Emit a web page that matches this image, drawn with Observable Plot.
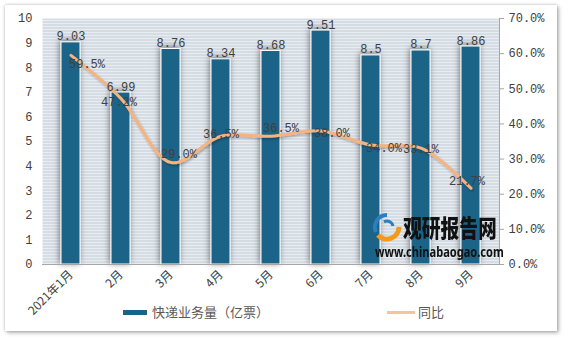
<!DOCTYPE html>
<html>
<head>
<meta charset="utf-8">
<script src="https://cdn.jsdelivr.net/npm/d3@7"></script>
<script src="https://cdn.jsdelivr.net/npm/@observablehq/plot@0.6"></script>
<style>
  html, body { margin: 0; padding: 0; background: #ffffff; }
  #wrap { position: relative; width: 568px; height: 339px; overflow: hidden; }
  #panel { position: absolute; left: 5px; top: 5px; width: 552px; height: 326px; background: #fff;
           box-shadow: 0 0 3px rgba(0,0,0,0.25), 2px 2px 4px rgba(0,0,0,0.25); }
  #chart { position: absolute; left: 0; top: 0; }
  .leg { position: absolute; font-family: "Noto Sans CJK SC", "Noto Sans", sans-serif; font-size: 13px; color: #595959; line-height: 16px; }
  .sw { position: absolute; }
  #wm1 { position: absolute; left: 403px; top: 212px; font-family: "Noto Sans CJK SC", sans-serif; font-weight: 900; font-size: 24px; color: #111; transform: scaleX(0.78); transform-origin: left top; line-height: 30px; }
  #wm2 { position: absolute; left: 375px; top: 244px; font-family: "Noto Sans", sans-serif; font-weight: 700; font-size: 13.5px; color: #111; transform: scaleX(0.82); transform-origin: left top; line-height: 16px; }
  #logo { position: absolute; left: 372px; top: 212px; }
</style>
</head>
<body>
<div id="wrap">
  <div id="panel"></div>
  <div id="chart"></div>
  <svg id="logo" width="30" height="30" viewBox="0 0 30 30">
    <path d="M15 3 A12 12 0 0 0 4 20" fill="none" stroke="#2a7fc0" stroke-width="4"/>
    <path d="M6 23 A12 12 0 0 0 27 15" fill="none" stroke="#f39a1e" stroke-width="5"/>
    <path d="M12 10 A6 6 0 0 1 21 14" fill="none" stroke="#2a7fc0" stroke-width="3"/>
  </svg>
  <div id="wm1">观研报告网</div>
  <div id="wm2">www.chinabaogao.com</div>
  <div class="sw" style="left:123px;top:310px;width:24px;height:5px;background:#1a6488;"></div>
  <div class="leg" style="left:152px;top:304px;">快递业务量（亿票）</div>
  <div class="sw" style="left:387px;top:311px;width:28px;height:3px;background:#f7c39b;"></div>
  <div class="leg" style="left:418px;top:304px;">同比</div>
</div>
<script>
const months = ["2021年1月", "2月", "3月", "4月", "5月", "6月", "7月", "8月", "9月"];
const volume = [9.03, 6.99, 8.76, 8.34, 8.68, 9.51, 8.5, 8.7, 8.86];
const yoy = [59.5, 47.2, 29.0, 36.5, 36.5, 38.0, 34.0, 33.1, 21.7];
const leftTicks = [0, 1, 2, 3, 4, 5, 6, 7, 8, 9, 10];
const rightTicks = [0, 10, 20, 30, 40, 50, 60, 70];

const data = months.map((m, i) => ({month: m, volume: volume[i], yoy: yoy[i]}));
const ratio = 7; // 70% on right axis <-> 10 on left axis

// label nudges (pixels) for the growth-rate labels
const nudge = [[16, 9], [-2, 4], [8, -8], [0, -2], [10, -8], [11, 2], [13, 3], [0, 1], [-4, -7]];

const numFont = "Liberation Mono, DejaVu Sans Mono, monospace";
const txt = "#404040";

const plot = Plot.plot({
  width: 568,
  height: 339,
  marginLeft: 42,
  marginRight: 69,
  marginTop: 18,
  marginBottom: 75,
  style: {background: "transparent", overflow: "visible"},
  x: {domain: months, paddingInner: 0.62, paddingOuter: 0.31},
  y: {domain: [0, 10]},
  marks: [
    Plot.frame({fill: "url(#stripes)", stroke: "none"}),
    Plot.barY(data, {x: "month", y: "volume", fill: "#1a6488", stroke: "#ffffff", strokeWidth: 1}),
    Plot.ruleY([0], {stroke: "#a6a6a6", strokeWidth: 1.2}),
    Plot.frame({anchor: "right", stroke: "#a6a6a6"}),
    Plot.line(data, {x: "month", y: d => d.yoy / ratio, curve: "catmull-rom", stroke: "#f6b380", strokeWidth: 3}),
    Plot.text(data, {x: "month", y: "volume", text: d => String(d.volume), lineAnchor: "bottom", dy: -2,
      fontFamily: numFont, fontSize: 12, fill: txt}),
    ...data.map((d, i) => Plot.text([d], {x: "month", y: e => e.yoy / ratio, text: e => e.yoy.toFixed(1) + "%",
      dx: nudge[i][0], dy: nudge[i][1], fontFamily: numFont, fontSize: 12, fill: txt})),
    Plot.axisY(leftTicks, {anchor: "left", tickSize: 0, tickPadding: 10, fontFamily: numFont, fontSize: 12,
      color: txt, label: null}),
    Plot.axisY(rightTicks.map(t => t / ratio), {anchor: "right", tickSize: 4, tickPadding: 5, stroke: "#a6a6a6",
      tickFormat: d => (d * ratio).toFixed(1) + "%", fontFamily: numFont, fontSize: 12, color: txt, label: null}),
    Plot.axisX({tickSize: 0, tickPadding: 8, tickRotate: -45, fontFamily: "Noto Sans CJK SC, sans-serif",
      fontSize: 12, color: txt, label: null})
  ]
});

const svg = d3.select(plot);
const defs = svg.insert("defs", ":first-child");
const pat = defs.append("pattern").attr("id", "stripes").attr("patternUnits", "userSpaceOnUse")
  .attr("x", 0).attr("y", 18).attr("width", 8).attr("height", 3);
pat.append("rect").attr("width", 8).attr("height", 3).attr("fill", "#e8edf1");
pat.append("rect").attr("y", 0).attr("width", 8).attr("height", 1).attr("fill", "#c2cbd4").attr("shape-rendering", "crispEdges");
const f1 = defs.append("filter").attr("id", "barShadow").attr("x", "-50%").attr("y", "-20%").attr("width", "200%").attr("height", "140%");
f1.append("feDropShadow").attr("dx", -1).attr("dy", -1).attr("stdDeviation", 3).attr("flood-color", "#000").attr("flood-opacity", 0.5);
const f2 = defs.append("filter").attr("id", "lineShadow").attr("x", "-10%").attr("y", "-20%").attr("width", "120%").attr("height", "140%");
f2.append("feDropShadow").attr("dx", 1).attr("dy", 1.5).attr("stdDeviation", 1.2).attr("flood-color", "#000").attr("flood-opacity", 0.3);

svg.selectAll("g[aria-label='bar'] rect").attr("filter", "url(#barShadow)");
svg.selectAll("g[aria-label='line'] path").attr("filter", "url(#lineShadow)");

document.getElementById("chart").appendChild(plot);
</script>
</body>
</html>
